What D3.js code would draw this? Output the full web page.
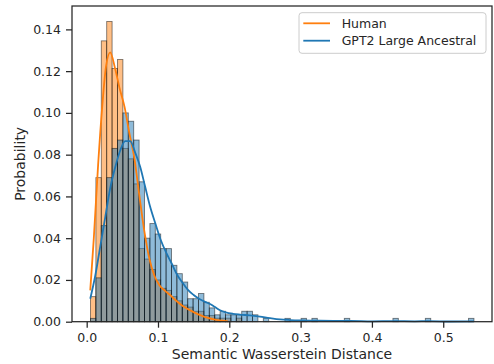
<!DOCTYPE html>
<html>
<head>
<meta charset="utf-8">
<script src="https://cdn.jsdelivr.net/npm/d3@7"></script>
<style>
  body { margin: 0; background: #fff; }
  svg text { font-family: "DejaVu Sans", sans-serif; fill: #262626; }
</style>
</head>
<body>
<div id="chart"></div>
<script>
// shared histogram bins
const binStart = 0.00533;
const binWidth = 0.007574;

// probability per bin
const humanProb = [0.012, 0.069, 0.1345, 0.1438, 0.1213, 0.1256, 0.083, 0.078, 0.066, 0.035,
  0.030, 0.025, 0.020, 0.016, 0.015, 0.012, 0.010, 0.008, 0.007, 0.005,
  0.005, 0.003, 0.003, 0.0017, 0.0017, 0.0017, 0, 0.0017];
const gptProb = [0.0016, 0.021, 0.046, 0.069, 0.083, 0.087, 0.100, 0.096, 0.087, 0.067,
  0.040, 0.047, 0.042, 0.035, 0.035, 0.027, 0.023, 0.019, 0.011, 0.011,
  0.0135, 0.0093, 0.0066, 0.0033, 0.005, 0.0033, 0.0033, 0.0033, 0.005, 0.005,
  0.0033, 0, 0.0016, 0, 0, 0, 0.0016, 0, 0, 0.0016,
  0, 0.0016, 0, 0, 0, 0, 0, 0.0016, 0, 0,
  0, 0, 0, 0, 0, 0, 0.0016, 0, 0, 0,
  0, 0, 0.0016, 0, 0, 0, 0, 0, 0, 0,
  0.0016];

// kde curves
const humanKdeX = [0.005, 0.010, 0.016, 0.022, 0.027, 0.033, 0.040, 0.046, 0.053, 0.060,
  0.067, 0.074, 0.081, 0.088, 0.095, 0.102, 0.110, 0.117, 0.124, 0.131,
  0.138, 0.145, 0.152, 0.160, 0.170, 0.180, 0.190, 0.198];
const humanKdeY = [0.015, 0.040, 0.075, 0.104, 0.122, 0.129, 0.121, 0.112, 0.103, 0.090,
  0.078, 0.060, 0.043, 0.030, 0.022, 0.0175, 0.0148, 0.0128, 0.0105, 0.0085,
  0.0068, 0.0055, 0.0042, 0.003, 0.0018, 0.001, 0.0005, 0.0002];
const gptKdeX = [0.005, 0.012, 0.019, 0.026, 0.033, 0.040, 0.047, 0.054, 0.061, 0.068,
  0.075, 0.082, 0.089, 0.097, 0.104, 0.112, 0.119, 0.127, 0.135, 0.142,
  0.150, 0.158, 0.166, 0.173, 0.180, 0.187, 0.195, 0.205, 0.215, 0.229,
  0.243, 0.257, 0.271, 0.285, 0.300, 0.320, 0.350, 0.370, 0.400, 0.430,
  0.460, 0.480, 0.510, 0.543];
const gptKdeY = [0.011, 0.022, 0.036, 0.050, 0.064, 0.074, 0.082, 0.0865, 0.0865, 0.081,
  0.0742, 0.0646, 0.055, 0.0463, 0.039, 0.0327, 0.028, 0.0224, 0.0184, 0.0152,
  0.0128, 0.0109, 0.0095, 0.0085, 0.007, 0.0055, 0.0045, 0.0038, 0.0034, 0.003,
  0.0024, 0.0017, 0.0011, 0.0008, 0.0006, 0.0005, 0.0004, 0.0004, 0.0002, 0.0003,
  0.0002, 0.0003, 0.0001, 0.0002];

const xTicks = [0, 0.1, 0.2, 0.3, 0.4, 0.5];
const yTicks = [0, 0.02, 0.04, 0.06, 0.08, 0.10, 0.12, 0.14];
const seriesNames = ["Human", "GPT2 Large Ancestral"];
const colors = ["#ff7f0e", "#1f77b4"];

const W = 494, H = 364;
const MARGIN = { LEFT: 72, RIGHT: 2, TOP: 6, BOTTOM: 42.3 };

const svg = d3.select("#chart").append("svg")
  .attr("width", W)
  .attr("height", H);

const x = d3.scaleLinear().domain([-0.0206, 0.5684]).range([MARGIN.LEFT, W - MARGIN.RIGHT]);
const y = d3.scaleLinear().domain([0, 0.1512]).range([H - MARGIN.BOTTOM, MARGIN.TOP]);

// bars
function drawHist(values, color) {
  const data = values.map((v, i) => ({ x0: binStart + i * binWidth, x1: binStart + (i + 1) * binWidth, v }))
    .filter(d => d.v > 0);
  svg.append("g").selectAll("rect")
    .data(data)
    .join("rect")
      .attr("x", d => x(d.x0))
      .attr("width", d => x(d.x1) - x(d.x0))
      .attr("y", d => y(d.v))
      .attr("height", d => y(0) - y(d.v))
      .attr("fill", color)
      .attr("fill-opacity", 0.5)
      .attr("stroke", "#000")
      .attr("stroke-opacity", 0.5)
      .attr("stroke-width", 0.9);
}
drawHist(humanProb, colors[0]);
drawHist(gptProb, colors[1]);

// kde lines
const line = d3.line()
  .x(d => x(d[0]))
  .y(d => y(d[1]))
  .curve(d3.curveMonotoneX);

svg.append("path")
  .attr("d", line(d3.zip(humanKdeX, humanKdeY)))
  .attr("fill", "none")
  .attr("stroke", colors[0])
  .attr("stroke-width", 1.8);
svg.append("path")
  .attr("d", line(d3.zip(gptKdeX, gptKdeY)))
  .attr("fill", "none")
  .attr("stroke", colors[1])
  .attr("stroke-width", 1.8);

// axes
const xAxis = svg.append("g")
  .attr("transform", `translate(0, ${H - MARGIN.BOTTOM})`)
  .call(d3.axisBottom(x).tickValues(xTicks).tickFormat(d3.format(".1f")).tickSize(6).tickPadding(5).tickSizeOuter(0));
const yAxis = svg.append("g")
  .attr("transform", `translate(${MARGIN.LEFT}, 0)`)
  .call(d3.axisLeft(y).tickValues(yTicks).tickFormat(d3.format(".2f")).tickSize(6).tickPadding(5).tickSizeOuter(0));

[xAxis, yAxis].forEach(g => {
  g.select(".domain").remove();
  g.selectAll(".tick line").attr("stroke", "#262626").attr("stroke-width", 1.25);
  g.selectAll(".tick text").attr("font-size", "12.5px").attr("fill", "#262626");
});

// frame
svg.append("rect")
  .attr("x", MARGIN.LEFT)
  .attr("y", MARGIN.TOP)
  .attr("width", W - MARGIN.LEFT - MARGIN.RIGHT)
  .attr("height", H - MARGIN.TOP - MARGIN.BOTTOM)
  .attr("fill", "none")
  .attr("stroke", "#262626")
  .attr("stroke-width", 1.25);

// axis labels
svg.append("text")
  .attr("x", (MARGIN.LEFT + W - MARGIN.RIGHT) / 2)
  .attr("y", 358.5)
  .attr("text-anchor", "middle")
  .attr("font-size", "14px")
  .text("Semantic Wasserstein Distance");
svg.append("text")
  .attr("transform", `translate(25, ${(MARGIN.TOP + H - MARGIN.BOTTOM) / 2}) rotate(-90)`)
  .attr("text-anchor", "middle")
  .attr("font-size", "14px")
  .text("Probability");

// legend
const legend = svg.append("g").attr("transform", "translate(299, 12.7)");
legend.append("rect")
  .attr("width", 187)
  .attr("height", 40.6)
  .attr("rx", 3)
  .attr("fill", "#fff")
  .attr("fill-opacity", 0.8)
  .attr("stroke", "#cccccc");
seriesNames.forEach((name, i) => {
  const ly = 10.6 + i * 17.4;
  legend.append("line")
    .attr("x1", 4.3).attr("x2", 31)
    .attr("y1", ly).attr("y2", ly)
    .attr("stroke", colors[i])
    .attr("stroke-width", 1.8);
  legend.append("text")
    .attr("x", 42.7)
    .attr("y", ly)
    .attr("dy", "0.35em")
    .attr("font-size", "12.5px")
    .text(name);
});
</script>
</body>
</html>
